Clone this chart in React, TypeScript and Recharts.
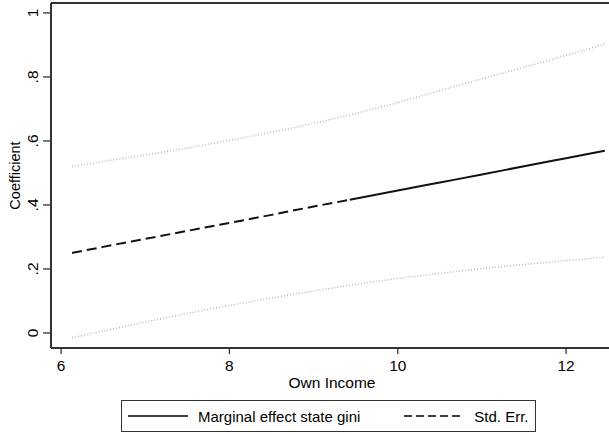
import { Legend, Line, LineChart, ReferenceLine, XAxis, YAxis } from "recharts";

// income values the margins were evaluated at
const income = [6.13, 6.5, 7, 7.5, 8, 8.5, 9, 9.43, 10, 10.5, 11, 11.5, 12, 12.46];
// marginal effect of state gini
const effect = [0.25, 0.269, 0.294, 0.319, 0.344, 0.369, 0.395, 0.416, 0.445, 0.47, 0.495, 0.521, 0.546, 0.569];
const upper = [0.52, 0.536, 0.556, 0.578, 0.602, 0.627, 0.655, 0.681, 0.72, 0.757, 0.794, 0.83, 0.867, 0.903];
const lower = [-0.015, 0.006, 0.034, 0.061, 0.086, 0.109, 0.131, 0.149, 0.17, 0.186, 0.201, 0.214, 0.226, 0.237];
// the effect line is dashed up to this income, solid after
const switchAt = 9.43;

const xTicks = [6, 8, 10, 12];
const yTicks = [0, 0.2, 0.4, 0.6, 0.8, 1];
const xDomain = [5.88, 12.51];
const yDomain = [-0.047, 1.031];

const legendItems = [
  { label: "Marginal effect state gini", dash: "" },
  { label: "Std. Err.", dash: "8 4" },
];

const data = income.map((x, i) => ({
  x,
  dashed: x <= switchAt ? effect[i] : null,
  solid: x >= switchAt ? effect[i] : null,
  upper: upper[i],
  lower: lower[i],
}));

const FONT = '"Liberation Sans", Arial, Helvetica, sans-serif';
const INK = "#000";
const AXIS = "#333";

const fmtY = (v: number) => (v === 0 ? "0" : v === 1 ? "1" : String(v).replace(/^0/, ""));

const XTick = ({ x, y, payload }: any) => (
  <text x={x} y={y + 15} textAnchor="middle" fontSize={15.5} fill={INK} fontFamily={FONT}>
    {payload.value}
  </text>
);

const YTick = ({ x, y, payload }: any) => (
  <text
    x={x - 3}
    y={y}
    transform={`rotate(-90, ${x - 3}, ${y})`}
    textAnchor="middle"
    fontSize={15.5}
    fill={INK}
    fontFamily={FONT}
  >
    {fmtY(payload.value)}
  </text>
);

const XLabel = ({ viewBox }: any) => (
  <text x={viewBox.x + viewBox.width / 2 + 2} y={388} textAnchor="middle" fontSize={15.5} fill={INK} fontFamily={FONT}>
    Own Income
  </text>
);

const YLabel = ({ viewBox }: any) => {
  const cy = viewBox.y + viewBox.height / 2;
  return (
    <text x={19.5} y={cy} transform={`rotate(-90, 19.5, ${cy})`} textAnchor="middle" fontSize={14.5} fill={INK} fontFamily={FONT}>
      Coefficient
    </text>
  );
};

const LegendBox = () => (
  <div
    style={{
      boxSizing: "border-box",
      width: "100%",
      height: "100%",
      border: `1.5px solid ${AXIS}`,
      display: "flex",
      alignItems: "center",
      fontFamily: FONT,
      fontSize: 15,
      color: INK,
      paddingLeft: 6,
    }}
  >
    {legendItems.map((it, i) => (
      <div key={it.label} style={{ display: "flex", alignItems: "center", marginLeft: i === 0 ? 0 : 44 }}>
        <svg width={60} height={6}>
          <line x1={0} y1={3} x2={60} y2={3} stroke={INK} strokeWidth={1.5} strokeDasharray={it.dash} />
        </svg>
        <span style={{ marginLeft: 10 }}>{it.label}</span>
      </div>
    ))}
  </div>
);

export default function App() {
  return (
    <div style={{ position: "absolute", left: 0, top: 0, width: 609, height: 434, background: "#fff" }}>
      <LineChart width={609} height={434} data={data} margin={{ top: 3, right: 0, bottom: 36, left: 0 }}>
        <XAxis
          dataKey="x"
          type="number"
          domain={xDomain}
          ticks={xTicks}
          allowDataOverflow
          height={50}
          tickSize={6}
          tick={<XTick />}
          tickLine={{ stroke: AXIS, strokeWidth: 1.3 }}
          axisLine={{ stroke: AXIS, strokeWidth: 2 }}
          label={<XLabel />}
        />
        <YAxis
          type="number"
          domain={yDomain}
          ticks={yTicks}
          allowDataOverflow
          width={51}
          tickSize={8}
          tick={<YTick />}
          tickLine={{ stroke: AXIS, strokeWidth: 1.3 }}
          axisLine={{ stroke: AXIS, strokeWidth: 2 }}
          label={<YLabel />}
        />
        <ReferenceLine y={yDomain[1]} stroke={AXIS} strokeWidth={2} />
        <Line type="monotone" dataKey="upper" stroke="#b8b8b8" strokeWidth={1.5} strokeDasharray="1 2" dot={false} isAnimationActive={false} />
        <Line type="monotone" dataKey="lower" stroke="#b8b8b8" strokeWidth={1.5} strokeDasharray="1 2" dot={false} isAnimationActive={false} />
        <Line type="monotone" dataKey="dashed" stroke="#111" strokeWidth={2} strokeDasharray="10 5" dot={false} isAnimationActive={false} />
        <Line type="monotone" dataKey="solid" stroke="#111" strokeWidth={2} dot={false} isAnimationActive={false} />
        <Legend
          layout="horizontal"
          verticalAlign="middle"
          align="center"
          content={<LegendBox />}
          wrapperStyle={{ left: 121, top: 400, width: 415, height: 32 }}
        />
      </LineChart>
    </div>
  );
}
